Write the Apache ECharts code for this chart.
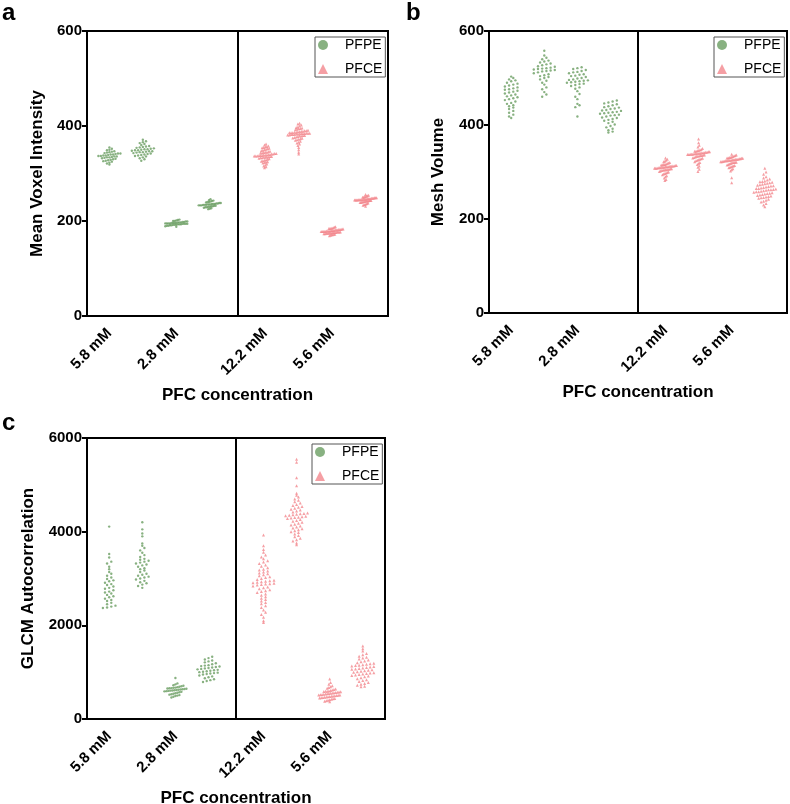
<!DOCTYPE html>
<html>
<head>
<meta charset="utf-8">
<script src="https://cdn.jsdelivr.net/npm/echarts@6/dist/echarts.min.js"></script>
<style>
  html, body { margin: 0; padding: 0; background: #fff; }
  #main { width: 790px; height: 804px; }
</style>
</head>
<body>
<div id="main"></div>
<script>
// categories
const groupLabels = ['5.8 mM', '2.8 mM', '12.2 mM', '5.6 mM'];
const pfpePos = [0.67, 1.67, 2.67, 3.67];
const pfcePos = [5.33, 6.33, 7.33, 8.33];
const labelPos = [0.67, 2.67, 5.33, 7.33];
const dividerPos = 4.5;

// a - Mean Voxel Intensity
const voxelPFPE = [
  [355, 352, 350, 349, 347, 346, 345, 344, 343, 342, 342, 341, 340, 340, 339, 338, 338, 337, 337, 336, 336, 335, 334, 334, 333, 332, 331, 330, 329, 328, 327, 326, 325, 323, 321, 319],
  [371, 368, 366, 364, 362, 360, 358, 357, 356, 355, 354, 353, 352, 351, 351, 350, 349, 349, 348, 347, 347, 346, 345, 345, 344, 343, 342, 341, 340, 339, 338, 337, 336, 334, 332, 330, 327],
  [203, 202, 201, 200, 200, 199, 199, 198, 198, 197, 197, 197, 196, 196, 196, 196, 195, 195, 195, 195, 194, 194, 194, 194, 193, 193, 193, 192, 192, 192, 191, 191, 190, 190, 189, 188],
  [246, 244, 243, 242, 241, 240, 240, 239, 238, 238, 237, 237, 236, 236, 236, 235, 235, 235, 234, 234, 234, 233, 233, 233, 232, 232, 231, 231, 230, 230, 229, 229, 228, 227, 226, 225]
];
const voxelPFCE = [
  [362, 360, 358, 357, 356, 355, 354, 353, 352, 351, 350, 349, 348, 347, 346, 345, 345, 344, 343, 343, 342, 342, 341, 341, 340, 340, 339, 339, 339, 338, 338, 338, 337, 337, 337, 336, 336, 335, 335, 334, 334, 333, 333, 332, 331, 330, 329, 328, 327, 326, 325, 324, 323, 322, 320, 318, 316, 314, 312],
  [406, 404, 402, 400, 398, 397, 396, 395, 394, 393, 392, 391, 390, 390, 389, 389, 388, 388, 387, 387, 386, 386, 386, 385, 385, 385, 384, 384, 384, 383, 383, 383, 382, 382, 382, 381, 381, 380, 380, 379, 379, 378, 377, 376, 375, 374, 373, 372, 371, 370, 368, 366, 364, 362, 359, 355, 350, 345, 341],
  [188, 187, 186, 185, 185, 184, 184, 183, 183, 182, 182, 182, 181, 181, 181, 180, 180, 180, 180, 179, 179, 179, 179, 178, 178, 178, 178, 178, 177, 177, 177, 177, 176, 176, 176, 176, 175, 175, 175, 174, 174, 174, 173, 173, 172, 172, 171, 171, 170, 169],
  [256, 254, 253, 252, 251, 251, 250, 250, 249, 249, 249, 248, 248, 248, 247, 247, 247, 247, 246, 246, 246, 246, 245, 245, 245, 245, 245, 244, 244, 244, 244, 243, 243, 243, 242, 242, 242, 241, 241, 240, 240, 239, 239, 238, 237, 236, 235, 234, 233, 231]
];

// b - Mesh Volume
const meshPFPE = [
  [503, 500, 497, 495, 493, 490, 488, 486, 484, 482, 480, 478, 476, 475, 473, 471, 469, 467, 465, 463, 461, 459, 457, 455, 453, 450, 447, 445, 442, 440, 437, 434, 430, 426, 422, 418, 415],
  [558, 548, 543, 540, 537, 535, 533, 531, 529, 527, 525, 524, 522, 521, 520, 519, 518, 517, 516, 515, 514, 512, 510, 508, 506, 504, 502, 500, 497, 494, 490, 486, 480, 476, 470, 465, 460],
  [523, 521, 519, 517, 515, 513, 512, 510, 508, 507, 505, 504, 502, 500, 499, 497, 496, 495, 494, 493, 492, 491, 490, 488, 487, 485, 483, 480, 477, 472, 466, 460, 455, 445, 442, 438, 418],
  [452, 450, 448, 446, 444, 442, 440, 438, 437, 435, 434, 432, 431, 430, 428, 427, 426, 425, 424, 422, 421, 420, 418, 416, 415, 413, 411, 409, 407, 404, 401, 398, 395, 392, 389, 386, 384]
];
const meshPFCE = [
  [330, 327, 325, 323, 322, 320, 319, 318, 317, 316, 316, 315, 315, 314, 314, 313, 313, 312, 312, 312, 311, 311, 311, 310, 310, 310, 309, 309, 309, 308, 308, 308, 307, 307, 306, 306, 305, 305, 304, 304, 303, 302, 301, 300, 299, 298, 297, 296, 294, 292, 290, 287, 284, 282],
  [370, 362, 357, 353, 350, 348, 347, 346, 345, 344, 344, 343, 343, 342, 342, 341, 341, 341, 340, 340, 340, 339, 339, 339, 338, 338, 338, 337, 337, 336, 336, 335, 335, 334, 334, 333, 332, 331, 330, 329, 328, 327, 326, 325, 324, 322, 320, 318, 316, 313, 310, 306, 301],
  [338, 336, 335, 334, 333, 332, 331, 331, 330, 330, 329, 329, 328, 328, 327, 327, 327, 326, 326, 326, 325, 325, 325, 324, 324, 324, 323, 323, 322, 322, 321, 321, 320, 320, 319, 318, 317, 316, 315, 314, 313, 312, 311, 310, 309, 307, 305, 302, 288, 277],
  [308, 300, 295, 290, 287, 285, 283, 281, 280, 279, 278, 277, 276, 275, 274, 273, 272, 271, 270, 269, 268, 267, 266, 265, 265, 264, 263, 262, 262, 261, 260, 259, 258, 258, 257, 256, 255, 254, 253, 252, 251, 250, 249, 248, 247, 246, 245, 244, 242, 240, 238, 236, 233, 230, 226]
];

// c - GLCM Autocorrelation
const glcmPFPE = [
  [4108, 3524, 3450, 3360, 3320, 3250, 3200, 3140, 3100, 3060, 3020, 2990, 2960, 2940, 2910, 2880, 2860, 2830, 2800, 2780, 2750, 2720, 2700, 2680, 2650, 2620, 2600, 2570, 2540, 2520, 2480, 2450, 2420, 2400, 2380, 2370],
  [4200, 4050, 3960, 3900, 3750, 3700, 3650, 3600, 3550, 3500, 3460, 3420, 3400, 3380, 3360, 3340, 3320, 3300, 3280, 3250, 3220, 3200, 3170, 3140, 3100, 3080, 3060, 3040, 3020, 3000, 2980, 2950, 2920, 2900, 2870, 2840, 2800],
  [876, 760, 740, 720, 710, 700, 690, 680, 670, 665, 660, 655, 650, 645, 640, 635, 630, 625, 620, 615, 610, 605, 600, 595, 590, 580, 570, 560, 550, 540, 530, 520, 510, 500, 490, 475, 460],
  [1330, 1300, 1270, 1250, 1230, 1210, 1190, 1170, 1150, 1140, 1130, 1120, 1110, 1100, 1090, 1080, 1070, 1060, 1050, 1040, 1030, 1020, 1010, 1000, 990, 980, 970, 960, 950, 930, 910, 890, 870, 850, 830, 810, 790]
];
const glcmPFCE = [
  [3930, 3700, 3620, 3560, 3500, 3460, 3420, 3380, 3350, 3320, 3290, 3260, 3230, 3200, 3180, 3160, 3140, 3120, 3100, 3080, 3060, 3040, 3020, 3000, 2980, 2960, 2950, 2940, 2930, 2920, 2910, 2900, 2890, 2880, 2870, 2860, 2840, 2820, 2800, 2780, 2760, 2740, 2720, 2700, 2670, 2640, 2610, 2580, 2550, 2520, 2490, 2460, 2420, 2380, 2330, 2280, 2230, 2170, 2100, 2060],
  [5547, 5480, 5150, 4980, 4820, 4780, 4740, 4700, 4670, 4640, 4610, 4580, 4560, 4540, 4520, 4500, 4480, 4460, 4440, 4420, 4400, 4390, 4380, 4370, 4360, 4350, 4340, 4330, 4320, 4310, 4300, 4290, 4280, 4260, 4240, 4220, 4200, 4180, 4160, 4140, 4120, 4100, 4080, 4060, 4040, 4020, 4000, 3980, 3950, 3920, 3890, 3860, 3830, 3800, 3760, 3720],
  [855, 780, 740, 710, 690, 670, 655, 640, 630, 620, 610, 600, 595, 590, 585, 580, 575, 570, 565, 560, 555, 550, 545, 540, 535, 530, 525, 520, 515, 510, 505, 500, 495, 490, 485, 480, 475, 470, 465, 460, 455, 450, 440, 430, 420, 410, 400, 390, 380, 370],
  [1560, 1500, 1450, 1400, 1370, 1340, 1320, 1300, 1280, 1260, 1240, 1220, 1200, 1190, 1180, 1170, 1160, 1150, 1140, 1130, 1120, 1110, 1100, 1090, 1080, 1070, 1060, 1050, 1040, 1030, 1020, 1010, 1000, 990, 980, 970, 960, 950, 940, 930, 920, 900, 880, 860, 840, 820, 800, 780, 760, 740, 720, 700, 690]
];

const green = '#6a9e62';
const pink = '#f2878d';
const font = '"Liberation Sans", Arial, Helvetica, sans-serif';

// panel layout
const panels = [
  { letter: 'a', left: 87, top: 31, width: 301, height: 285, yMax: 600, yStep: 200, yName: 'Mean Voxel Intensity', nameGap: 41, bin: 2.6, pfpe: voxelPFPE, pfce: voxelPFCE },
  { letter: 'b', left: 489, top: 31, width: 298, height: 282, yMax: 600, yStep: 200, yName: 'Mesh Volume', nameGap: 42, bin: 3.4, pfpe: meshPFPE, pfce: meshPFCE },
  { letter: 'c', left: 87, top: 438, width: 298, height: 281, yMax: 6000, yStep: 2000, yName: 'GLCM Autocorrelation', nameGap: 50, bin: 3.2, pfpe: glcmPFPE, pfce: glcmPFCE }
];
const xMax = 9;

// simple beeswarm: bin values into pixel rows, spread each row sideways
function swarm(values, center, p) {
  const pxY = p.height / p.yMax;
  const pxX = p.width / xMax;
  const rows = new Map();
  values.slice().sort((a, b) => a - b).forEach(v => {
    const k = Math.round(v * pxY / p.bin);
    if (!rows.has(k)) rows.set(k, []);
    rows.get(k).push(v);
  });
  let maxN = 1;
  rows.forEach(r => { maxN = Math.max(maxN, r.length); });
  const d = Math.min(4.2, 22 / Math.max(1, maxN - 1));
  const out = [];
  rows.forEach(r => {
    r.forEach((v, i) => out.push([center + (i - (r.length - 1) / 2) * d / pxX, v]));
  });
  return out;
}

const option = {
  animation: false,
  textStyle: { fontFamily: font },
  title: [],
  legend: [],
  grid: [],
  xAxis: [],
  yAxis: [],
  series: []
};

panels.forEach((p, i) => {
  option.title.push({
    text: p.letter,
    left: i === 1 ? 406 : 2,
    top: i === 2 ? 411 : 1,
    padding: 0,
    textStyle: { fontSize: 24, fontWeight: 'bold', color: '#000', fontFamily: font }
  });
  option.grid.push({
    left: p.left, top: p.top, width: p.width, height: p.height,
    outerBoundsMode: 'none',
    show: true, borderColor: '#000', borderWidth: 2, backgroundColor: 'transparent'
  });
  option.xAxis.push({
    type: 'value', gridIndex: i, min: 0, max: xMax,
    splitLine: { show: false },
    axisLine: { show: true, onZero: false, lineStyle: { color: '#000', width: 2 } },
    axisTick: { show: false },
    axisLabel: {
      customValues: labelPos,
      rotate: 45,
      margin: 15,
      fontSize: 15,
      fontWeight: 'bold',
      color: '#000',
      fontFamily: font,
      formatter: v => groupLabels[labelPos.indexOf(v)] || ''
    },
    name: 'PFC concentration',
    nameLocation: 'middle',
    nameGap: 71,
    nameTextStyle: { fontSize: 17, fontWeight: 'bold', color: '#000', fontFamily: font }
  });
  option.yAxis.push({
    type: 'value', gridIndex: i, min: 0, max: p.yMax, interval: p.yStep,
    splitLine: { show: false },
    axisLine: { show: true, lineStyle: { color: '#000', width: 2 } },
    axisTick: { show: true, length: 5, lineStyle: { color: '#000', width: 2 } },
    axisLabel: { fontSize: 15, fontWeight: 'bold', color: '#000', margin: 5, fontFamily: font, formatter: v => String(v) },
    name: p.yName,
    nameLocation: 'middle',
    nameRotate: 90,
    nameGap: p.nameGap,
    nameTextStyle: { fontSize: 17, fontWeight: 'bold', color: '#000', fontFamily: font }
  });
  option.legend.push({
    data: [{ name: 'PFPE', icon: 'circle' }, { name: 'PFCE', icon: 'triangle' }],
    orient: 'vertical',
    left: p.left + p.width - 73,
    top: p.top + 6,
    itemWidth: 10,
    itemHeight: 10,
    itemGap: 10,
    padding: [1, 3, 1, 3],
    borderColor: '#555',
    borderWidth: 1,
    textStyle: { fontSize: 14, color: '#000', fontFamily: font, padding: [0, 0, 0, 12] }
  });
  let pfpeData = [];
  let pfceData = [];
  p.pfpe.forEach((vals, g) => { pfpeData = pfpeData.concat(swarm(vals, pfpePos[g], p)); });
  p.pfce.forEach((vals, g) => { pfceData = pfceData.concat(swarm(vals, pfcePos[g], p)); });
  option.series.push({
    name: 'PFPE', type: 'scatter', xAxisIndex: i, yAxisIndex: i,
    symbol: 'circle', symbolSize: 2.4, itemStyle: { color: green },
    data: pfpeData,
    markLine: {
      silent: true, symbol: 'none', label: { show: false },
      lineStyle: { color: '#000', width: 2, type: 'solid' },
      data: [{ xAxis: dividerPos }]
    }
  });
  option.series.push({
    name: 'PFCE', type: 'scatter', xAxisIndex: i, yAxisIndex: i,
    symbol: 'triangle', symbolSize: 3, itemStyle: { color: pink },
    data: pfceData
  });
});

const chart = echarts.init(document.getElementById('main'));
chart.setOption(option);
window.onresize = function () { chart.resize(); };
</script>
</body>
</html>
